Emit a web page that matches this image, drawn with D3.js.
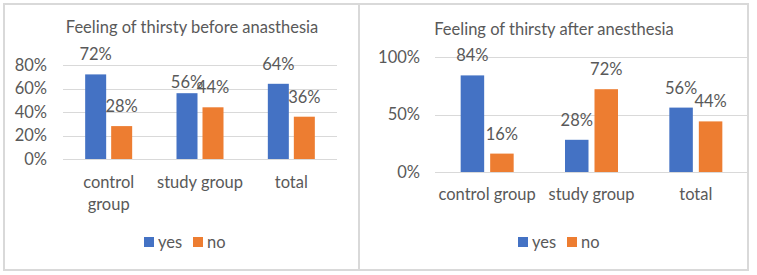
<!DOCTYPE html>
<html>
<head>
<meta charset="utf-8">
<script src="https://cdn.jsdelivr.net/npm/d3@7"></script>
<style>
  body { margin: 0; background: #fff; }
  text { font-family: Lato, "Open Sans", sans-serif; fill: #595959; }
</style>
</head>
<body>
<svg id="chart" width="757" height="275"></svg>
<script>
// data
var categories = ["control group", "study group", "total"];
var seriesNames = ["yes", "no"];
var beforeYes = [0.72, 0.56, 0.64];
var beforeNo = [0.28, 0.44, 0.36];
var afterYes = [0.84, 0.28, 0.56];
var afterNo = [0.16, 0.72, 0.44];
var beforeTicks = [0, 0.2, 0.4, 0.6, 0.8];
var afterTicks = [0, 0.5, 1];

var colors = {"yes": "#4472C4", "no": "#ED7D31"};
var grid = "#D9D9D9";
var fs = "16.5px";

var svg = d3.select("#chart");

svg.append("rect")
    .attr("x", 4).attr("y", 4)
    .attr("width", 744).attr("height", 266)
    .attr("fill", "#fff")
    .attr("stroke", grid).attr("stroke-width", 2);
svg.append("line")
    .attr("x1", 359).attr("x2", 359)
    .attr("y1", 4).attr("y2", 270)
    .attr("stroke", grid).attr("stroke-width", 2);

// one panel of grouped bars
function drawPanel(opt) {
    var g = svg.append("g");

    var x = d3.scaleBand().domain(categories).range([opt.x0, opt.x1]);
    var bw = opt.barW, gap = opt.gap;
    var y = d3.scaleLinear().domain([0, opt.ticks[opt.ticks.length - 1]])
        .range([opt.y0, opt.yTop]);

    g.append("text")
        .attr("x", opt.titleX).attr("y", opt.titleY)
        .attr("text-anchor", "middle")
        .style("font-size", "16.5px")
        .text(opt.title);

    // gridlines + tick labels
    g.selectAll(".grid").data(opt.ticks).enter().append("line")
        .attr("x1", opt.x0).attr("x2", opt.x1)
        .attr("y1", function (d) { return Math.round(y(d)) + 0.5; })
        .attr("y2", function (d) { return Math.round(y(d)) + 0.5; })
        .attr("stroke", grid).attr("stroke-width", 1);
    g.selectAll(".tick").data(opt.ticks).enter().append("text")
        .attr("x", opt.tickX)
        .attr("y", function (d) { return y(d) + 5.5; })
        .attr("text-anchor", "end")
        .style("font-size", fs)
        .text(d3.format(".0%"));

    var rows = [];
    categories.forEach(function (c, i) {
        rows.push({cat: c, s: "yes", v: opt.yes[i], k: 0});
        rows.push({cat: c, s: "no", v: opt.no[i], k: 1});
    });
    function barX(d) {
        var mid = x(d.cat) + x.bandwidth() / 2;
        return d.k === 0 ? mid - gap / 2 - bw : mid + gap / 2;
    }

    g.selectAll(".bar").data(rows).enter().append("rect")
        .attr("x", barX)
        .attr("y", function (d) { return y(d.v); })
        .attr("width", bw)
        .attr("height", function (d) { return opt.y0 - y(d.v); })
        .attr("fill", function (d) { return colors[d.s]; });

    g.selectAll(".lbl").data(rows).enter().append("text")
        .attr("x", function (d) { return barX(d) + bw / 2; })
        .attr("y", function (d, i) { return y(d.v) - (opt.nudge[i] || 14); })
        .attr("text-anchor", "middle")
        .style("font-size", fs)
        .text(function (d) { return d3.format(".0%")(d.v); });

    // category labels, wrapped when asked
    categories.forEach(function (c) {
        var lines = opt.wrap[c] || [c];
        var t = g.append("text")
            .attr("x", x(c) + x.bandwidth() / 2)
            .attr("y", opt.catY)
            .attr("text-anchor", "middle")
            .style("font-size", fs);
        lines.forEach(function (ln, j) {
            t.append("tspan")
                .attr("x", x(c) + x.bandwidth() / 2)
                .attr("dy", j ? 22 : 0)
                .text(ln);
        });
    });

    // legend
    var lg = g.append("g").attr("transform", "translate(" + opt.legX + ",237)");
    seriesNames.forEach(function (s, i) {
        var off = i * 49;
        lg.append("rect").attr("x", off).attr("y", 0)
            .attr("width", 10).attr("height", 10)
            .attr("fill", colors[s]);
        lg.append("text").attr("x", off + 14).attr("y", 10.5)
            .style("font-size", fs)
            .text(s);
    });
}

drawPanel({
    title: "Feeling of thirsty before anasthesia",
    titleX: 192, titleY: 33,
    x0: 63, x1: 337, y0: 159, yTop: 65,
    ticks: beforeTicks, tickX: 47,
    yes: beforeYes, no: beforeNo,
    barW: 21, gap: 5,
    nudge: [0, 0, 5, 0, 0, 0],
    catY: 188,
    wrap: {"control group": ["control", "group"]},
    legX: 144
});

drawPanel({
    title: "Feeling of thirsty after anesthesia",
    titleX: 554, titleY: 35,
    x0: 435, x1: 748, y0: 172, yTop: 57,
    ticks: afterTicks, tickX: 420,
    yes: afterYes, no: afterNo,
    barW: 23.5, gap: 6,
    nudge: [],
    catY: 200,
    wrap: {},
    legX: 518
});
</script>
</body>
</html>
